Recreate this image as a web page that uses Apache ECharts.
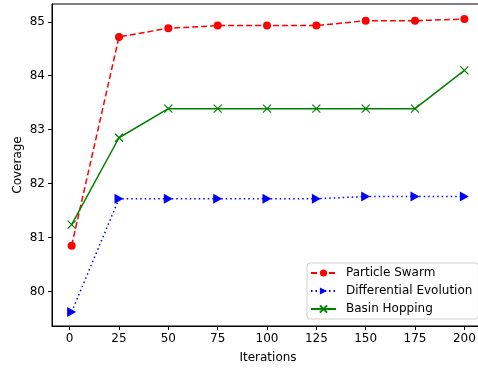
<!DOCTYPE html>
<html>
<head>
<meta charset="utf-8">
<script src="https://cdn.jsdelivr.net/npm/echarts@6/dist/echarts.min.js"></script>
<style>
  html, body { margin: 0; padding: 0; background: #fff; }
  #chart { width: 478px; height: 368px; }
</style>
</head>
<body>
<div id="chart"></div>
<script>
const iterations = [1, 25, 50, 75, 100, 125, 150, 175, 200];
const particleSwarm = [80.85, 84.72, 84.88, 84.93, 84.93, 84.93, 85.02, 85.02, 85.05];
const differentialEvolution = [79.62, 81.72, 81.72, 81.72, 81.72, 81.72, 81.76, 81.76, 81.76];
const basinHopping = [81.24, 82.85, 83.39, 83.39, 83.39, 83.39, 83.39, 83.39, 84.1];
const xTicks = [0, 25, 50, 75, 100, 125, 150, 175, 200];
const yTicks = [80, 81, 82, 83, 84, 85];

const pairs = ys => iterations.map((x, i) => [x, ys[i]]);
const font = 'DejaVu Sans';

const chart = echarts.init(document.getElementById('chart'));

chart.setOption({
  backgroundColor: '#fff',
  animation: false,
  textStyle: { fontFamily: font },
  grid: {
    left: 52,
    top: 4,
    width: 432,
    height: 322,
    show: true,
    borderColor: '#000',
    borderWidth: 1,
    containLabel: false,
    outerBoundsMode: 'none',
  },
  xAxis: {
    type: 'value',
    min: -8.95,
    max: 209.95,
    name: 'Iterations',
    nameLocation: 'middle',
    nameGap: 26,
    nameMoveOverlap: false,
    nameTextStyle: { fontSize: 12, color: '#000', fontFamily: font },
    splitLine: { show: false },
    axisLine: { onZero: false, lineStyle: { color: '#000', width: 1 } },
    axisTick: { show: true, inside: false, length: 4, lineStyle: { color: '#000' }, customValues: xTicks },
    axisLabel: { customValues: xTicks, margin: 7, fontSize: 12, color: '#000', fontFamily: font },
  },
  yAxis: {
    type: 'value',
    min: 79.36,
    max: 85.33,
    name: 'Coverage',
    nameLocation: 'middle',
    nameGap: 28,
    nameMoveOverlap: false,
    nameTextStyle: { fontSize: 12, color: '#000', fontFamily: font },
    splitLine: { show: false },
    axisLine: { show: true, onZero: false, lineStyle: { color: '#000', width: 1 } },
    axisTick: { show: true, inside: false, length: 4, lineStyle: { color: '#000' }, customValues: yTicks },
    axisLabel: { customValues: yTicks, margin: 7, fontSize: 12, color: '#000', fontFamily: font },
  },
  legend: {
    orient: 'vertical',
    left: 307,
    top: 263,
    itemWidth: 25,
    itemHeight: 9,
    itemGap: 4,
    padding: [3, 6, 3, 3],
    backgroundColor: '#fff',
    borderColor: '#d0d0d0',
    borderWidth: 1,
    borderRadius: 3,
    textStyle: { fontSize: 12, color: '#000', fontFamily: font, lineHeight: 14, padding: [0, 0, 0, 5] },
    data: ['Particle Swarm', 'Differential Evolution', 'Basin Hopping'],
  },
  series: [
    {
      name: 'Particle Swarm',
      type: 'line',
      data: pairs(particleSwarm),
      symbol: 'circle',
      symbolSize: 8,
      itemStyle: { color: '#ff0000' },
      lineStyle: { color: '#ff0000', width: 1.5, type: [6, 3] },
      z: 3,
    },
    {
      name: 'Differential Evolution',
      type: 'line',
      data: pairs(differentialEvolution),
      symbol: 'path://M0,0L10,5L0,10Z',
      symbolSize: [9, 10],
      symbolKeepAspect: true,
      itemStyle: { color: '#0000ff' },
      lineStyle: { color: '#0000ff', width: 1.5, type: [1.5, 3] },
      z: 2,
    },
    {
      name: 'Basin Hopping',
      type: 'line',
      data: pairs(basinHopping),
      symbol: 'path://M0,0L10,10M10,0L0,10',
      symbolSize: 8,
      itemStyle: { color: '#008000', borderColor: '#008000', borderWidth: 1.2 },
      lineStyle: { color: '#008000', width: 1.5 },
      z: 4,
    },
  ],
});

window.addEventListener('resize', () => chart.resize());
</script>
</body>
</html>
